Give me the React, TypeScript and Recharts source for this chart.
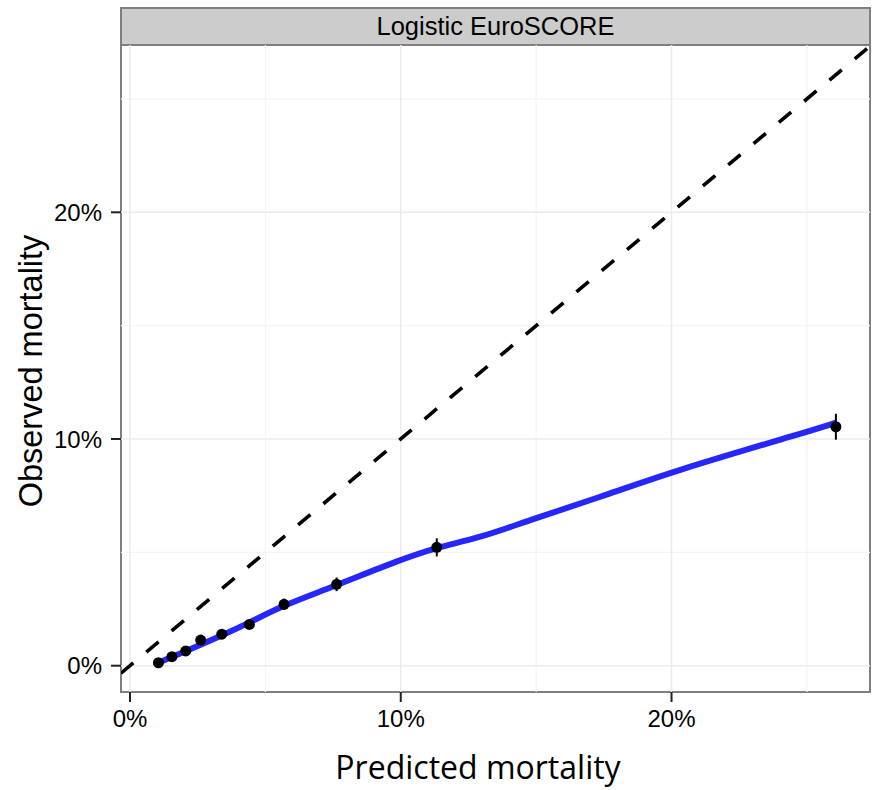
import { ComposedChart, Line, Scatter, ErrorBar, XAxis, YAxis, ReferenceLine, ReferenceArea } from 'recharts';

// calibration points (predicted vs observed, %)
const predicted = [1.05, 1.55, 2.06, 2.61, 3.39, 4.41, 5.69, 7.63, 11.33, 26.07];
const observed = [0.13, 0.4, 0.65, 1.13, 1.39, 1.82, 2.71, 3.59, 5.22, 10.54];
const observedErr = [0.05, 0.06, 0.08, 0.12, 0.13, 0.16, 0.25, 0.3, 0.4, 0.57];

// smoothed fit
const smoothX = [1.05, 2.06, 3.39, 4.41, 5.69, 7.39, 10, 11.33, 12.92, 14.77, 17.36, 20, 24.96, 26.07];
const smoothY = [0.13, 0.64, 1.33, 1.9, 2.68, 3.43, 4.69, 5.22, 5.64, 6.43, 7.43, 8.56, 10.3, 10.72];

const majorTicks = [0, 10, 20];
const minorTicks = [5, 15, 25];
const xDomain = [-0.332, 27.33];
const yDomain = [-1.16, 27.38];

const points = predicted.map((x, i) => ({ x, y: observed[i], err: observedErr[i] }));
const smooth = smoothX.map((x, i) => ({ x, y: smoothY[i] }));
const identity = xDomain.map((v) => ({ x: v, y: v }));

const tickFont = { fontSize: 24, fill: '#000', fontFamily: '"Liberation Sans", Arial, sans-serif' };
const pct = (v: number) => `${v}%`;

const XTitle = () => (
  <text x={478} y={779} textAnchor="middle" fontSize={32} fontFamily='"Open Sans", sans-serif' fill="#000">
    Predicted mortality
  </text>
);

const YTitle = () => (
  <text
    x={42}
    y={371}
    transform="rotate(-90 42 371)"
    textAnchor="middle"
    fontSize={32.5}
    fontFamily='"Liberation Sans", Arial, sans-serif'
    fill="#000"
  >
    Observed mortality
  </text>
);

const Dot = (p: any) => <circle cx={p.cx} cy={p.cy} r={5.5} fill="#000" />;

export default function App() {
  return (
    <div style={{ position: 'absolute', left: 0, top: 0, width: 874, height: 790, background: '#fff' }}>
      <div
        style={{
          position: 'absolute',
          left: 120,
          top: 7,
          width: 751,
          height: 39,
          boxSizing: 'border-box',
          background: '#cccccc',
          border: '2px solid #7f7f7f',
          textAlign: 'center',
          lineHeight: '35px',
          fontSize: 25.5,
          fontFamily: '"Liberation Sans", Arial, sans-serif',
          color: '#000',
        }}
      >
        Logistic EuroSCORE
      </div>
      <ComposedChart width={874} height={790} margin={{ top: 45, right: 4, bottom: 0, left: 0 }}>
        <XAxis
          dataKey="x"
          type="number"
          domain={xDomain}
          allowDataOverflow
          ticks={majorTicks}
          tickFormatter={pct}
          tick={tickFont}
          axisLine={false}
          tickLine={{ stroke: '#222', strokeWidth: 2 }}
          tickSize={10}
          tickMargin={8}
          height={98}
          label={<XTitle />}
        />
        <YAxis
          dataKey="y"
          type="number"
          domain={yDomain}
          allowDataOverflow
          ticks={majorTicks}
          tickFormatter={pct}
          tick={tickFont}
          axisLine={false}
          tickLine={{ stroke: '#222', strokeWidth: 2 }}
          tickSize={10}
          tickMargin={9}
          width={121}
          label={<YTitle />}
        />
        {minorTicks.map((v) => (
          <ReferenceLine key={`mx${v}`} x={v} stroke="#f4f4f4" strokeWidth={1.2} />
        ))}
        {minorTicks.map((v) => (
          <ReferenceLine key={`my${v}`} y={v} stroke="#f4f4f4" strokeWidth={1.2} />
        ))}
        {majorTicks.map((v) => (
          <ReferenceLine key={`Mx${v}`} x={v} stroke="#ebebeb" strokeWidth={1.5} />
        ))}
        {majorTicks.map((v) => (
          <ReferenceLine key={`My${v}`} y={v} stroke="#ebebeb" strokeWidth={1.5} />
        ))}
        <Line
          data={identity}
          dataKey="y"
          type="linear"
          stroke="#000"
          strokeWidth={3.6}
          strokeDasharray="16 17"
          dot={false}
          activeDot={false}
          isAnimationActive={false}
        />
        <Scatter data={points} dataKey="y" fill="#000" shape={<Dot />} isAnimationActive={false}>
          <ErrorBar dataKey="err" direction="y" width={0} stroke="#000" strokeWidth={2} isAnimationActive={false} />
        </Scatter>
        <Line
          data={smooth}
          dataKey="y"
          type="basis"
          stroke="#0000ff"
          strokeOpacity={0.85}
          strokeWidth={6}
          dot={false}
          activeDot={false}
          isAnimationActive={false}
        />
        <ReferenceArea
          x1={xDomain[0]}
          x2={xDomain[1]}
          y1={yDomain[0]}
          y2={yDomain[1]}
          fill="none"
          fillOpacity={0}
          stroke="#7f7f7f"
          strokeWidth={2}
        />
      </ComposedChart>
    </div>
  );
}
